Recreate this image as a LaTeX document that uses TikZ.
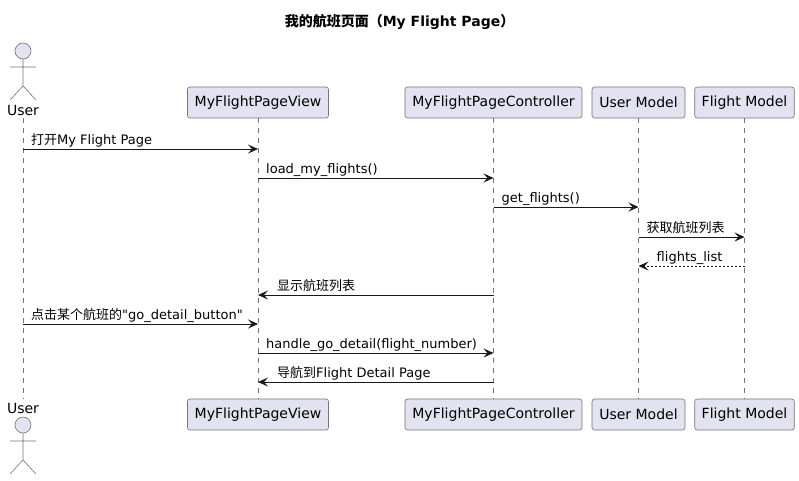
\documentclass[tikz,border=0pt]{standalone}
\usepackage{fontspec}
\setmainfont{DejaVu Sans}[Ligatures=TeXOff]
\newfontfamily\cjk{Noto Sans CJK SC}
\usetikzlibrary{arrows.meta}
\definecolor{partfill}{HTML}{E2E2F0}
\definecolor{partdraw}{HTML}{181818}
\begin{document}
\begin{tikzpicture}[x=1pt,y=-1pt,
  part/.style={draw=partdraw!60, fill=partfill, line width=0.6pt, rounded corners=2.5pt,
    minimum height=31pt, inner xsep=7pt, font=\fontsize{14}{16}\selectfont},
  actorlabel/.style={inner sep=0pt, font=\fontsize{14}{16}\selectfont},
  actorbody/.style={draw=partdraw!60, line width=0.6pt},
  lifeline/.style={draw=partdraw!60, line width=0.6pt, dash pattern=on 5pt off 5pt},
  msg/.style={draw=partdraw, line width=0.8pt, -{Stealth[length=10pt,width=9pt,inset=4pt]}},
  ret/.style={msg, dash pattern=on 2pt off 2pt},
  lbl/.style={inner sep=0pt, anchor=base west, font=\fontsize{13}{15}\selectfont},
  title/.style={inner sep=0pt, font=\fontsize{14}{16}\selectfont\bfseries}
]
\useasboundingbox (0,0) rectangle (799,480);
\fill[white] (0,0) rectangle (799,480);

\node[title] (ttl) at (399.5,22) {{\cjk\bfseries 我的航班页面（}My Flight Page{\cjk\bfseries ）}};

% top participants
\node[part, minimum width=141pt] (viewT) at (258,102.5) {MyFlightPageView};
\node[part, minimum width=177pt] (ctrlT) at (493.5,102.5) {MyFlightPageController};
\node[part, minimum width=93pt] (umT) at (638.5,102.5) {User Model};
\node[part, minimum width=99pt] (fmT) at (744.5,102.5) {Flight Model};
% bottom participants
\node[part, minimum width=141pt] (viewB) at (258,414.5) {MyFlightPageView};
\node[part, minimum width=177pt] (ctrlB) at (493.5,414.5) {MyFlightPageController};
\node[part, minimum width=93pt] (umB) at (638.5,414.5) {User Model};
\node[part, minimum width=99pt] (fmB) at (744.5,414.5) {Flight Model};

% actor top
\node[actorlabel] (userT) at (23,110) {User};
\draw[actorbody, fill=partfill] (23,51) circle (8pt);
\draw[actorbody] (23,59) -- (23,86) (10,67) -- (36,67) (23,86) -- (10,100) (23,86) -- (36,100);
% actor bottom
\node[actorlabel] (userB) at (23,408) {User};
\draw[actorbody, fill=partfill] (23,425) circle (8pt);
\draw[actorbody] (23,433) -- (23,460) (10,441) -- (36,441) (23,460) -- (10,474) (23,460) -- (36,474);

% lifelines
\draw[lifeline] (23,118) -- (23,399);
\draw[lifeline] (viewT.south) -- (viewB.north);
\draw[lifeline] (ctrlT.south) -- (ctrlB.north);
\draw[lifeline] (umT.south) -- (umB.north);
\draw[lifeline] (fmT.south) -- (fmB.north);

% message rows
\coordinate (u) at (23,0);
\foreach \n/\y in {1/149,2/178,3/207,4/237,5/266,6/295,7/324,8/353,9/382}{
  \coordinate (m\n) at (0,\y);
}

\draw[msg] (u |- m1) -- (viewT |- m1);
\node[lbl] (l1) at ([xshift=8pt,yshift=4.5pt]u |- m1) {{\cjk 打开}My Flight Page};

\draw[msg] (viewT |- m2) -- (ctrlT |- m2);
\node[lbl] (l2) at ([xshift=8pt,yshift=4.5pt]viewT |- m2) {load\_my\_flights()};

\draw[msg] (ctrlT |- m3) -- (umT |- m3);
\node[lbl] (l3) at ([xshift=8pt,yshift=4.5pt]ctrlT |- m3) {get\_flights()};

\draw[msg] (umT |- m4) -- (fmT |- m4);
\node[lbl] (l4) at ([xshift=8pt,yshift=4.5pt]umT |- m4) {\cjk 获取航班列表};

\draw[ret] (fmT |- m5) -- (umT |- m5);
\node[lbl] (l5) at ([xshift=18pt,yshift=4.5pt]umT |- m5) {flights\_list};

\draw[msg] (ctrlT |- m6) -- (viewT |- m6);
\node[lbl] (l6) at ([xshift=19pt,yshift=4.5pt]viewT |- m6) {\cjk 显示航班列表};

\draw[msg] (u |- m7) -- (viewT |- m7);
\node[lbl] (l7) at ([xshift=8pt,yshift=4.5pt]u |- m7) {{\cjk 点击某个航班的}"go\_detail\_button"};

\draw[msg] (viewT |- m8) -- (ctrlT |- m8);
\node[lbl] (l8) at ([xshift=8pt,yshift=4.5pt]viewT |- m8) {handle\_go\_detail(flight\_number)};

\draw[msg] (ctrlT |- m9) -- (viewT |- m9);
\node[lbl] (l9) at ([xshift=19pt,yshift=4.5pt]viewT |- m9) {{\cjk 导航到}Flight Detail Page};
\end{tikzpicture}
\end{document}
